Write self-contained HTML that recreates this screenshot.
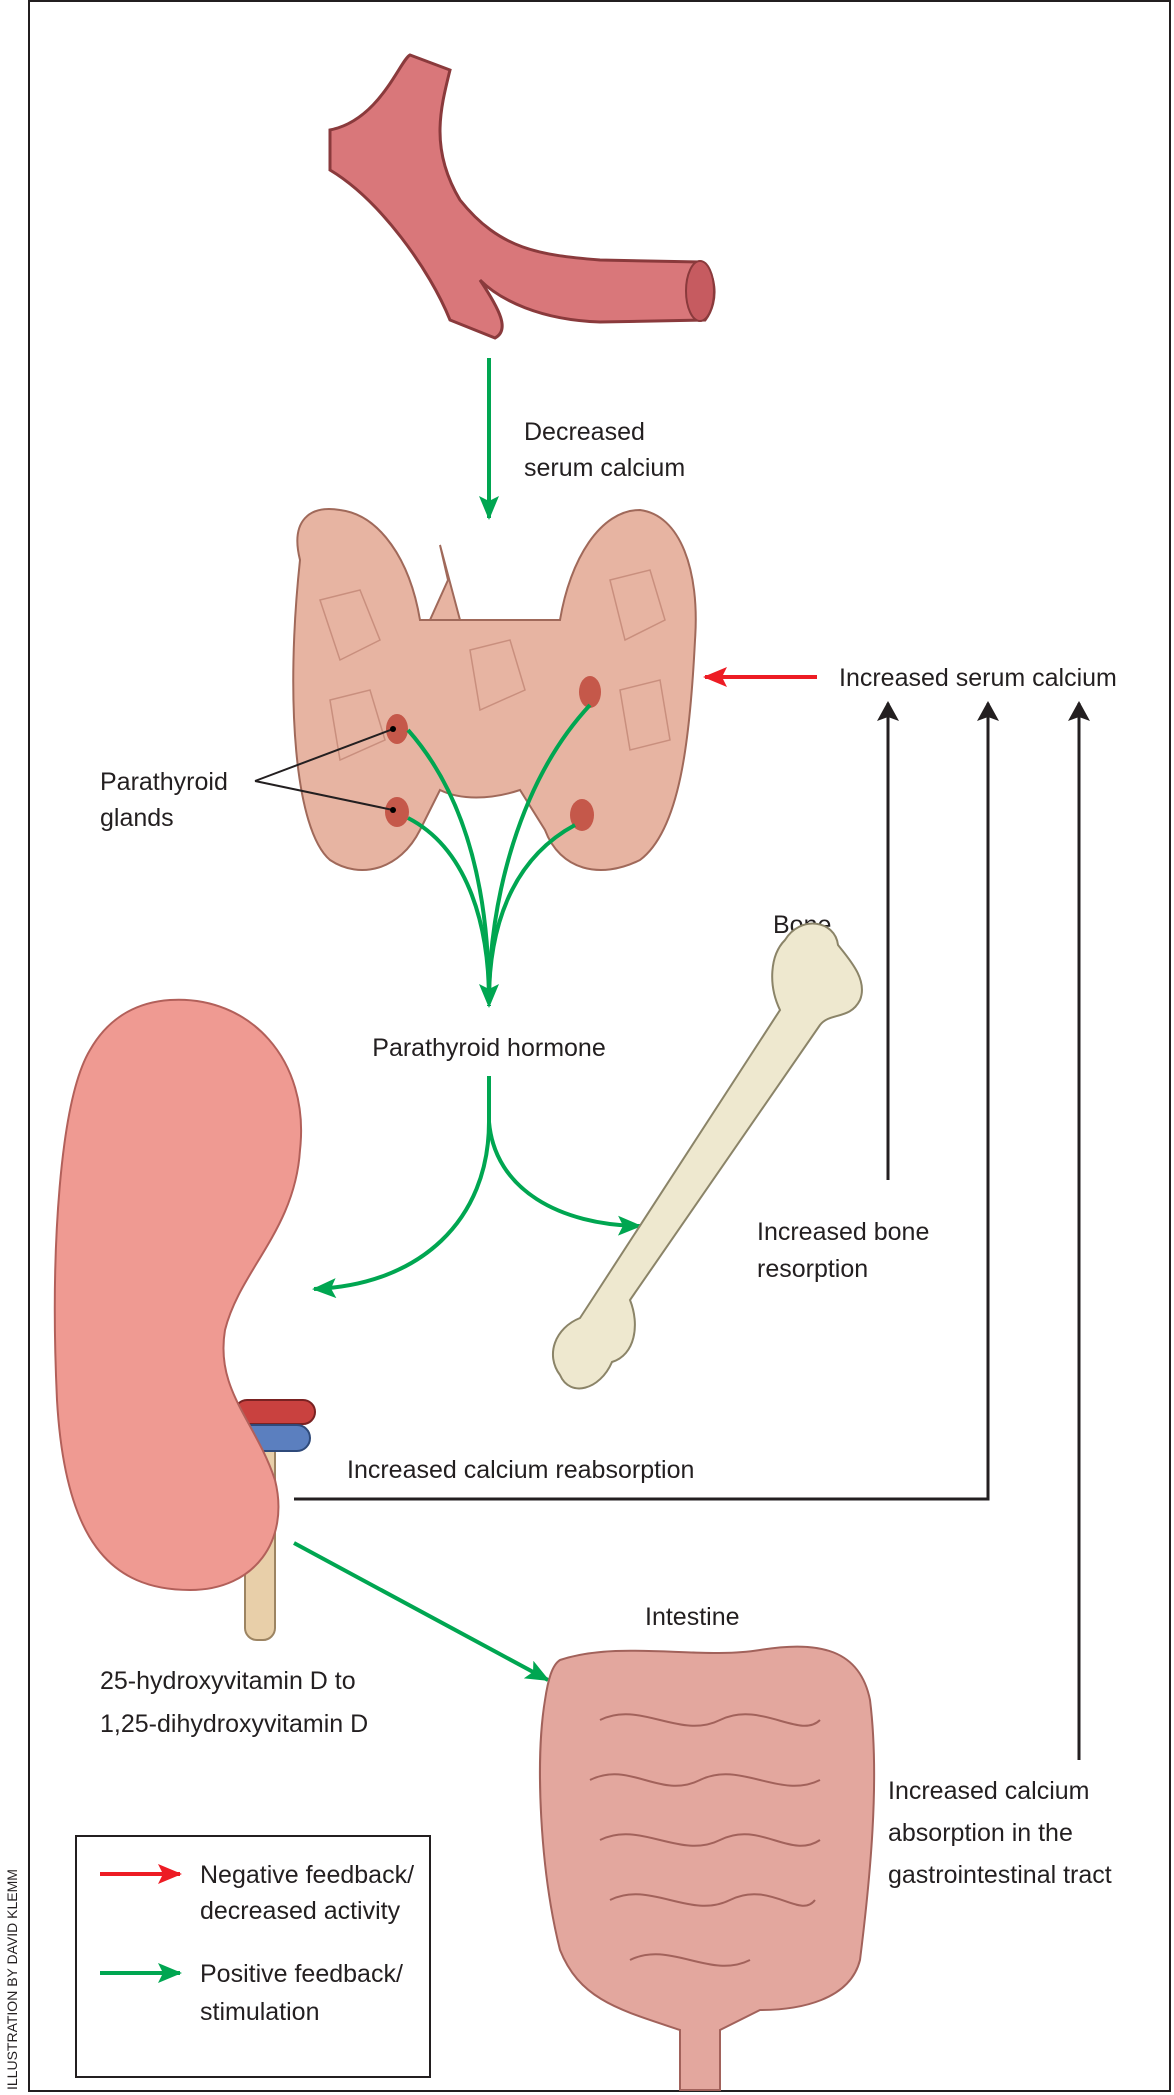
<!DOCTYPE html>
<html><head><meta charset="utf-8"><style>
html,body{margin:0;padding:0;background:#fff;width:1174px;height:2095px;overflow:hidden}
svg{display:block}
text{font-family:"Liberation Sans",sans-serif;font-size:25px;fill:#231f20}
</style></head><body>
<svg width="1174" height="2095" viewBox="0 0 1174 2095" xmlns="http://www.w3.org/2000/svg">
<defs>
<marker id="gA" markerWidth="24" markerHeight="20" refX="22" refY="10" orient="auto" markerUnits="userSpaceOnUse"><path d="M0,0 L24,10 L0,20 L5,10 z" fill="#00a651"/></marker>
<marker id="rA" markerWidth="24" markerHeight="20" refX="22" refY="10" orient="auto" markerUnits="userSpaceOnUse"><path d="M0,0 L24,10 L0,20 L5,10 z" fill="#ed1c24"/></marker>
<marker id="kA" markerWidth="20" markerHeight="22" refX="18" refY="11" orient="auto" markerUnits="userSpaceOnUse"><path d="M0,0 L20,11 L0,22 L4,11 z" fill="#231f20"/></marker>
</defs>
<rect x="29" y="1" width="1141" height="2090" fill="none" stroke="#231f20" stroke-width="2"/>
<text transform="translate(17,2090) rotate(-90)" style="font-size:14px">ILLUSTRATION BY DAVID KLEMM</text>

<!-- blood vessel -->
<path d="M330,130 C380,120 400,60 410,55 L450,70 C440,110 430,150 460,200 C500,250 540,255 600,260 L700,262 C715,270 720,300 705,320 L600,322 C540,320 500,300 480,280 C500,310 510,330 495,338 L450,320 C430,270 380,200 330,170 Z" fill="#d9777a" stroke="#8a3a3c" stroke-width="3"/>
<ellipse cx="700" cy="291" rx="14" ry="30" fill="#c65b60" stroke="#8a3a3c" stroke-width="2"/>

<!-- thyroid -->
<path d="M300,560 C290,520 310,505 340,510 C380,515 410,560 420,620 L560,620 C570,560 600,510 640,510 C680,515 700,570 695,640 C690,740 680,830 640,860 C600,880 560,870 545,830 L520,790 C490,800 460,800 440,790 L420,830 C400,870 360,880 330,860 C295,830 285,700 300,560 Z" fill="#e7b4a2" stroke="#a0695a" stroke-width="2"/>
<path d="M440,545 L448,580 L430,620 L460,620 Z" fill="#e7b4a2" stroke="#a0695a" stroke-width="2"/>
<g fill="none" stroke="#c98f7e" stroke-width="1.5">
<path d="M320,600 L360,590 L380,640 L340,660 Z"/><path d="M330,700 L370,690 L385,740 L340,760 Z"/>
<path d="M610,580 L650,570 L665,620 L625,640 Z"/><path d="M620,690 L660,680 L670,740 L630,750 Z"/>
<path d="M470,650 L510,640 L525,690 L480,710 Z"/>
</g>
<ellipse cx="397" cy="729" rx="11" ry="15" fill="#c5584a"/>
<ellipse cx="397" cy="812" rx="12" ry="15" fill="#c5584a"/>
<ellipse cx="590" cy="692" rx="11" ry="16" fill="#c5584a"/>
<ellipse cx="582" cy="815" rx="12" ry="16" fill="#c5584a"/>
<g stroke="#231f20" stroke-width="2"><line x1="255" y1="781" x2="393" y2="729"/><line x1="255" y1="781" x2="393" y2="810"/></g>
<circle cx="393" cy="729" r="3"/><circle cx="393" cy="810" r="3"/>
<text x="100" y="790">Parathyroid</text><text x="100" y="826">glands</text>

<g fill="none" stroke="#00a651" stroke-width="4">
<path d="M408,730 C470,800 489,900 489,1000"/>
<path d="M408,818 C470,850 489,930 489,1000"/>
<path d="M590,705 C520,780 489,900 489,1000"/>
<path d="M575,825 C510,860 489,930 489,1000"/>
<path d="M489,358 L489,518" marker-end="url(#gA)"/>
<path d="M489,1005 L489,1006" marker-end="url(#gA)"/>
<path d="M489,1076 L489,1122 C489,1220 420,1285 314,1289" marker-end="url(#gA)"/>
<path d="M489,1122 C495,1190 560,1225 640,1226" marker-end="url(#gA)"/>
<path d="M294,1543 L548,1680" marker-end="url(#gA)"/>
</g>
<text x="524" y="440">Decreased</text><text x="524" y="476">serum calcium</text>
<text x="489" y="1056" text-anchor="middle">Parathyroid hormone</text>

<path d="M817,677 L705,677" stroke="#ed1c24" stroke-width="4" fill="none" marker-end="url(#rA)"/>
<text x="839" y="686">Increased serum calcium</text>

<g stroke="#231f20" stroke-width="3" fill="none">
<path d="M888,1180 L888,703" marker-end="url(#kA)"/>
<path d="M294,1499 L988,1499 L988,703" marker-end="url(#kA)"/>
<path d="M1079,1760 L1079,703" marker-end="url(#kA)"/>
</g>

<!-- bone -->
<text x="773" y="933">Bone</text>
<path d="M785,940 C800,915 835,920 838,945 C850,960 868,980 860,1000 C850,1020 830,1012 820,1025 L630,1300 C640,1325 635,1355 612,1362 C600,1390 570,1398 560,1375 C545,1355 555,1328 580,1318 L595,1295 L780,1010 C768,985 770,955 785,940 Z" fill="#eee8cf" stroke="#8b8468" stroke-width="2"/>
<text x="757" y="1240">Increased bone</text><text x="757" y="1277">resorption</text>

<!-- kidney -->
<text x="147" y="1198">Kidney</text>
<rect x="245" y="1440" width="30" height="200" rx="12" fill="#e8cfa9" stroke="#9c8462" stroke-width="2"/>
<rect x="235" y="1400" width="80" height="24" rx="12" fill="#c9413f" stroke="#7a2222" stroke-width="2"/>
<rect x="225" y="1425" width="85" height="26" rx="13" fill="#5b7fbf" stroke="#2f4a7a" stroke-width="2"/>
<path d="M170,1000 C250,995 310,1060 300,1150 C295,1230 240,1270 225,1330 C215,1390 255,1420 275,1480 C290,1540 255,1590 190,1590 C110,1590 65,1540 57,1400 C50,1250 60,1100 90,1050 C110,1015 140,1002 170,1000 Z" fill="#ef9a92" stroke="#b2605a" stroke-width="2"/>
<text x="347" y="1478">Increased calcium reabsorption</text>
<text x="100" y="1689">25-hydroxyvitamin D to</text><text x="100" y="1732">1,25-dihydroxyvitamin D</text>

<!-- intestine -->
<text x="645" y="1625">Intestine</text>
<path d="M560,1660 C620,1640 700,1660 760,1650 C820,1640 860,1650 870,1700 C880,1780 870,1880 860,1960 C850,2000 800,2010 760,2010 L720,2030 L720,2090 L680,2090 L680,2030 C620,2010 580,2000 560,1950 C540,1870 535,1760 545,1700 C548,1680 552,1665 560,1660 Z" fill="#e3a79e" stroke="#a2625b" stroke-width="2"/>
<g fill="none" stroke="#a2625b" stroke-width="2">
<path d="M600,1720 C640,1700 680,1740 720,1720 C760,1700 800,1740 820,1720"/>
<path d="M590,1780 C630,1760 660,1800 700,1780 C740,1760 780,1800 820,1780"/>
<path d="M600,1840 C640,1820 680,1860 720,1840 C760,1820 790,1860 820,1840"/>
<path d="M610,1900 C650,1880 690,1920 730,1900 C770,1880 800,1920 815,1900"/>
<path d="M630,1960 C670,1940 710,1980 750,1960"/>
</g>
<text x="888" y="1799">Increased calcium</text>
<text x="888" y="1841">absorption in the</text>
<text x="888" y="1883">gastrointestinal tract</text>

<rect x="76" y="1836" width="354" height="241" fill="#fff" stroke="#231f20" stroke-width="2"/>
<path d="M100,1874 L180,1874" stroke="#ed1c24" stroke-width="4" marker-end="url(#rA)"/>
<text x="200" y="1883">Negative feedback/</text><text x="200" y="1919">decreased activity</text>
<path d="M100,1973 L180,1973" stroke="#00a651" stroke-width="4" marker-end="url(#gA)"/>
<text x="200" y="1982">Positive feedback/</text><text x="200" y="2020">stimulation</text>
</svg>
</body></html>
